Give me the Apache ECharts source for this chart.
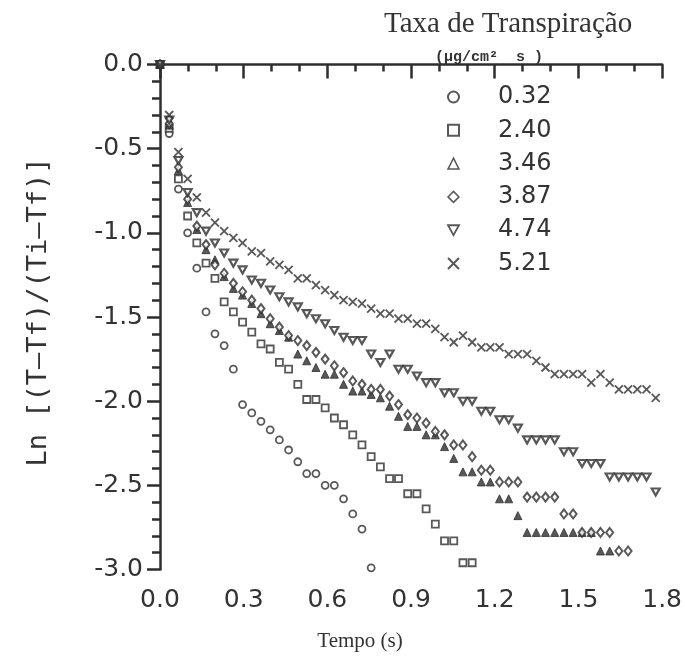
<!DOCTYPE html>
<html>
<head>
<meta charset="utf-8">
<script src="https://cdn.jsdelivr.net/npm/echarts@6/dist/echarts.min.js"></script>
<style>
  html, body { margin: 0; padding: 0; background: #fff; }
  #chart { width: 685px; height: 657px; }
</style>
</head>
<body>
<div id="chart"></div>
<script>
  // tempo (s), one sample every ~1/30 s
  const tempo = [0, 0.033, 0.066, 0.099, 0.132, 0.165, 0.197, 0.230, 0.263, 0.296,
    0.329, 0.362, 0.395, 0.428, 0.461, 0.494, 0.526, 0.559, 0.592, 0.625,
    0.658, 0.691, 0.724, 0.757, 0.790, 0.823, 0.855, 0.888, 0.921, 0.954,
    0.987, 1.020, 1.053, 1.086, 1.119, 1.152, 1.184, 1.217, 1.250, 1.283,
    1.316, 1.349, 1.382, 1.415, 1.448, 1.481, 1.513, 1.546, 1.579, 1.612,
    1.645, 1.678, 1.711, 1.744, 1.777]

  const taxas = ['0.32', '2.40', '3.46', '3.87', '4.74', '5.21']

  // Ln[(T-Tf)/(Ti-Tf)] por taxa de transpiração
  const ln032 = [0, -0.41, -0.74, -1.00, -1.21, -1.47, -1.60, -1.67, -1.81, -2.02,
    -2.07, -2.12, -2.17, -2.23, -2.29, -2.36, -2.43, -2.43, -2.50, -2.50,
    -2.58, -2.67, -2.76, -2.99]
  const ln240 = [0, -0.38, -0.68, -0.90, -1.06, -1.18, -1.27, -1.41, -1.47, -1.53,
    -1.59, -1.66, -1.69, -1.77, -1.81, -1.90, -1.99, -1.99, -2.04, -2.10,
    -2.14, -2.20, -2.26, -2.33, -2.39, -2.46, -2.46, -2.55, -2.55, -2.64,
    -2.73, -2.83, -2.83, -2.96, -2.96]
  const ln346 = [0, -0.36, -0.63, -0.82, -0.98, -1.10, -1.16, -1.26, -1.33, -1.37,
    -1.42, -1.48, -1.54, -1.58, -1.62, -1.72, -1.76, -1.80, -1.84, -1.84,
    -1.90, -1.94, -1.94, -1.96, -1.98, -2.03, -2.09, -2.15, -2.15, -2.20,
    -2.20, -2.27, -2.34, -2.42, -2.42, -2.48, -2.48, -2.58, -2.58, -2.68,
    -2.78, -2.78, -2.78, -2.78, -2.78, -2.78, -2.78, -2.78, -2.89, -2.89]
  const ln387 = [0, -0.35, -0.61, -0.80, -0.96, -1.07, -1.19, -1.24, -1.30, -1.35,
    -1.40, -1.45, -1.51, -1.56, -1.61, -1.64, -1.67, -1.71, -1.75, -1.79,
    -1.83, -1.88, -1.90, -1.93, -1.93, -1.97, -2.02, -2.08, -2.10, -2.13,
    -2.18, -2.20, -2.26, -2.26, -2.33, -2.41, -2.41, -2.48, -2.48, -2.48,
    -2.57, -2.57, -2.57, -2.57, -2.67, -2.67, -2.78, -2.78, -2.78, -2.78,
    -2.89, -2.89]
  const ln474 = [0, -0.33, -0.57, -0.76, -0.88, -0.99, -1.06, -1.12, -1.18, -1.22,
    -1.28, -1.30, -1.34, -1.38, -1.41, -1.44, -1.48, -1.51, -1.54, -1.58,
    -1.62, -1.64, -1.64, -1.72, -1.77, -1.72, -1.81, -1.81, -1.85, -1.89,
    -1.89, -1.95, -1.95, -2.00, -2.00, -2.06, -2.06, -2.11, -2.11, -2.16,
    -2.23, -2.23, -2.23, -2.23, -2.30, -2.30, -2.37, -2.37, -2.37, -2.45,
    -2.45, -2.45, -2.45, -2.45, -2.54]
  const ln521 = [0, -0.30, -0.52, -0.68, -0.79, -0.88, -0.94, -0.99, -1.03, -1.06,
    -1.11, -1.12, -1.17, -1.19, -1.22, -1.27, -1.27, -1.31, -1.34, -1.37,
    -1.40, -1.41, -1.42, -1.45, -1.48, -1.48, -1.51, -1.51, -1.54, -1.54,
    -1.57, -1.62, -1.65, -1.61, -1.65, -1.68, -1.68, -1.68, -1.72, -1.72,
    -1.72, -1.76, -1.80, -1.84, -1.84, -1.84, -1.84, -1.89, -1.84, -1.89,
    -1.93, -1.93, -1.93, -1.93, -1.98]

  const ink = '#2e2e2e'
  const pares = (vals) => vals.map((v, i) => [tempo[i], v])

  const hollow = { color: '#fff', borderColor: ink, borderWidth: 1.8 }
  const solid = { color: ink, borderColor: ink, borderWidth: 1 }

  const marcas = [
    { data: ln032, symbol: 'circle', size: 7, style: hollow },
    { data: ln240, symbol: 'rect', size: 7, style: hollow },
    { data: ln346, symbol: 'triangle', size: 8, style: solid },
    { data: ln387, symbol: 'diamond', size: [7, 9], style: { ...hollow, borderWidth: 2 } },
    { data: ln474, symbol: 'path://M0,0L10,0L5,9Z', size: [8, 7], style: { ...hollow, borderWidth: 2.2 } },
    { data: ln521, symbol: 'path://M0,0L10,10M0,10L10,0', size: 8, style: { color: ink, borderColor: ink, borderWidth: 1.8 } },
  ]

  const chart = echarts.init(document.getElementById('chart'))

  const option = {
    animation: false,
    backgroundColor: '#fff',
    title: [
      {
        text: 'Taxa de Transpiração',
        left: 379,
        top: 5,
        textStyle: { fontFamily: 'Liberation Serif', fontSize: 29, fontWeight: 'normal', color: '#333' },
      },
      {
        text: '(µg/cm²  s )',
        left: 430,
        top: 45,
        textStyle: { fontFamily: 'Liberation Mono', fontSize: 15, fontWeight: 'bold', color: '#333' },
      },
    ],
    legend: {
      orient: 'vertical',
      left: 442,
      top: 80,
      itemWidth: 11,
      itemHeight: 11,
      itemGap: 9.3,
      selectedMode: false,
      textStyle: {
        fontFamily: 'DejaVu Sans',
        fontSize: 24,
        lineHeight: 24,
        color: '#333',
        padding: [0, 0, 0, 34],
      },
      data: [
        { name: '0.32' },
        { name: '2.40' },
        { name: '3.46', itemStyle: { color: '#fff', borderWidth: 1.5 } },
        { name: '3.87', itemStyle: { color: '#fff', borderWidth: 1.5 } },
        { name: '4.74', itemStyle: { color: '#fff', borderWidth: 1.8 } },
        { name: '5.21' },
      ],
    },
    grid: {
      left: 160,
      right: 22,
      top: 64.5,
      bottom: 87.5,
      containLabel: false,
    },
    xAxis: {
      type: 'value',
      min: 0,
      max: 1.8,
      interval: 0.3,
      axisLine: { lineStyle: { color: ink, width: 2.5 } },
      axisTick: { length: 14, lineStyle: { color: ink, width: 2.5 } },
      minorTick: { show: true, splitNumber: 3, length: 7, lineStyle: { color: ink, width: 2.5 } },
      splitLine: { show: false },
      axisLabel: {
        margin: 18,
        fontFamily: 'DejaVu Sans',
        fontSize: 25,
        color: '#333',
        formatter: (v) => v.toFixed(1),
      },
      name: 'Tempo (s)',
      nameLocation: 'middle',
      nameGap: 61,
      nameTextStyle: {
        fontFamily: 'Liberation Serif',
        fontSize: 21,
        color: '#333',
        padding: [0, 102, 0, 0],
      },
    },
    yAxis: {
      type: 'value',
      min: -3,
      max: 0,
      interval: 0.5,
      axisLine: { lineStyle: { color: ink, width: 2.5 } },
      axisTick: { length: 13, lineStyle: { color: ink, width: 2.5 } },
      minorTick: { show: true, splitNumber: 5, length: 8, lineStyle: { color: ink, width: 2.5 } },
      splitLine: { show: false },
      axisLabel: {
        margin: 17,
        fontFamily: 'DejaVu Sans',
        fontSize: 25,
        color: '#333',
        formatter: (v) => v.toFixed(1),
      },
      name: 'Ln [(T—Tf)/(Ti—Tf)]',
      nameLocation: 'middle',
      nameRotate: 90,
      nameGap: 108,
      nameTextStyle: {
        fontFamily: 'DejaVu Sans Mono',
        fontSize: 27,
        color: '#333',
        padding: [0, 0, 0, 10],
      },
    },
    series: marcas.map((m, i) => ({
      name: taxas[i],
      type: 'scatter',
      data: pares(m.data),
      symbol: m.symbol,
      symbolSize: m.size,
      itemStyle: m.style,
      clip: false,
      emphasis: { disabled: true },
    })),
  }

  chart.setOption(option)
</script>
</body>
</html>
